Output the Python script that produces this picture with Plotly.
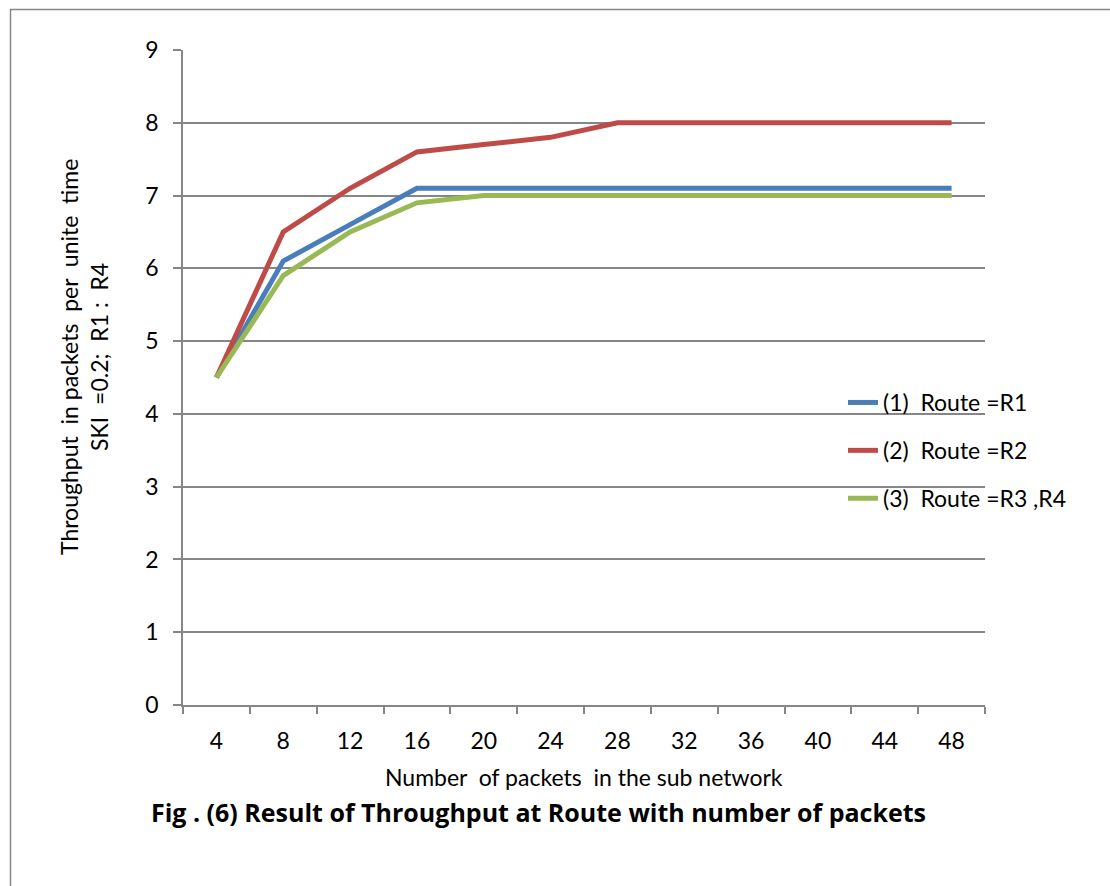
import plotly.graph_objects as go

packets = ["4", "8", "12", "16", "20", "24", "28", "32", "36", "40", "44", "48"]
route_r1 = [4.5, 6.1, 6.6, 7.1, 7.1, 7.1, 7.1, 7.1, 7.1, 7.1, 7.1, 7.1]
route_r2 = [4.5, 6.5, 7.1, 7.6, 7.7, 7.8, 8.0, 8.0, 8.0, 8.0, 8.0, 8.0]
route_r34 = [4.5, 5.9, 6.5, 6.9, 7.0, 7.0, 7.0, 7.0, 7.0, 7.0, 7.0, 7.0]
series_names = ["(1)\u00a0 Route =R1", "(2)\u00a0 Route =R2", "(3)\u00a0 Route =R3 ,R4"]
colors = ["#4A7EBB", "#BE4B48", "#98B954"]

FONT = "Lato, Open Sans, sans-serif"
FS = 23

fig = go.Figure()
for i, (name, vals) in enumerate(zip(series_names, [route_r1, route_r2, route_r34])):
    fig.add_trace(go.Scatter(
        x=packets, y=vals, mode="lines", name=name,
        legendgroup=f"g{i}",
        line=dict(color=colors[i], width=5),
    ))

L, R, T, B = 183, 985, 50, 705
W, H = 1110, 886

def px_x(p):
    return (p - L) / (R - L)

def px_y(p):
    return (B - p) / (B - T)

fig.update_layout(
    width=W, height=H,
    margin=dict(l=L, r=W - R, t=T, b=H - B),
    paper_bgcolor="white", plot_bgcolor="white",
    font=dict(family=FONT, size=FS, color="#000000"),
    showlegend=True,
    legend=dict(
        x=px_x(843), y=px_y(381), xanchor="left", yanchor="top",
        bgcolor="rgba(0,0,0,0)", traceorder="grouped", tracegroupgap=15,
        font=dict(size=FS, family=FONT),
    ),
    xaxis=dict(
        type="category", range=[-0.5, 11.5], showgrid=False, showline=True,
        linecolor="#868686", linewidth=1.5,
        ticks="outside", tickson="boundaries", ticklen=7, tickcolor="#868686", tickwidth=1.5,
        tickfont=dict(size=FS, family=FONT), zeroline=False, ticklabelstandoff=15,
    ),
    yaxis=dict(
        range=[0, 9], dtick=1, showgrid=True, gridcolor="#868686", gridwidth=1.5,
        showline=True, linecolor="#868686", linewidth=1.5,
        ticks="outside", ticklen=8, tickcolor="#868686", tickwidth=1.5,
        tickfont=dict(size=FS, family=FONT), zeroline=False, ticklabelstandoff=10,
    ),
    shapes=[dict(
        type="rect", xref="paper", yref="paper",
        x0=px_x(10.5), x1=px_x(1200), y0=px_y(1000), y1=px_y(9.5),
        line=dict(color="#868686", width=1.5), fillcolor="rgba(0,0,0,0)", layer="below",
    )],
    annotations=[
        dict(text="Throughput\u00a0 in packets\u00a0 per\u00a0 unite\u00a0 time<br>SKI\u00a0 =0.2;\u00a0 R1 :\u00a0 R4",
             xref="paper", yref="paper", x=px_x(84), y=px_y(357), textangle=-90,
             xanchor="center", yanchor="middle",
             showarrow=False, font=dict(size=FS, family=FONT), align="center"),
        dict(text="Number\u00a0 of packets\u00a0 in the sub network",
             xref="paper", yref="paper", x=px_x(584), y=px_y(777),
             xanchor="center", yanchor="middle",
             showarrow=False, font=dict(size=FS, family=FONT)),
        dict(text="<b>Fig . (6) Result of Throughput at Route with number of packets</b>",
             xref="paper", yref="paper", x=px_x(538), y=px_y(812),
             xanchor="center", yanchor="middle",
             showarrow=False, font=dict(size=25, family="Open Sans, sans-serif")),
    ],
)

fig.write_html("out.html")
